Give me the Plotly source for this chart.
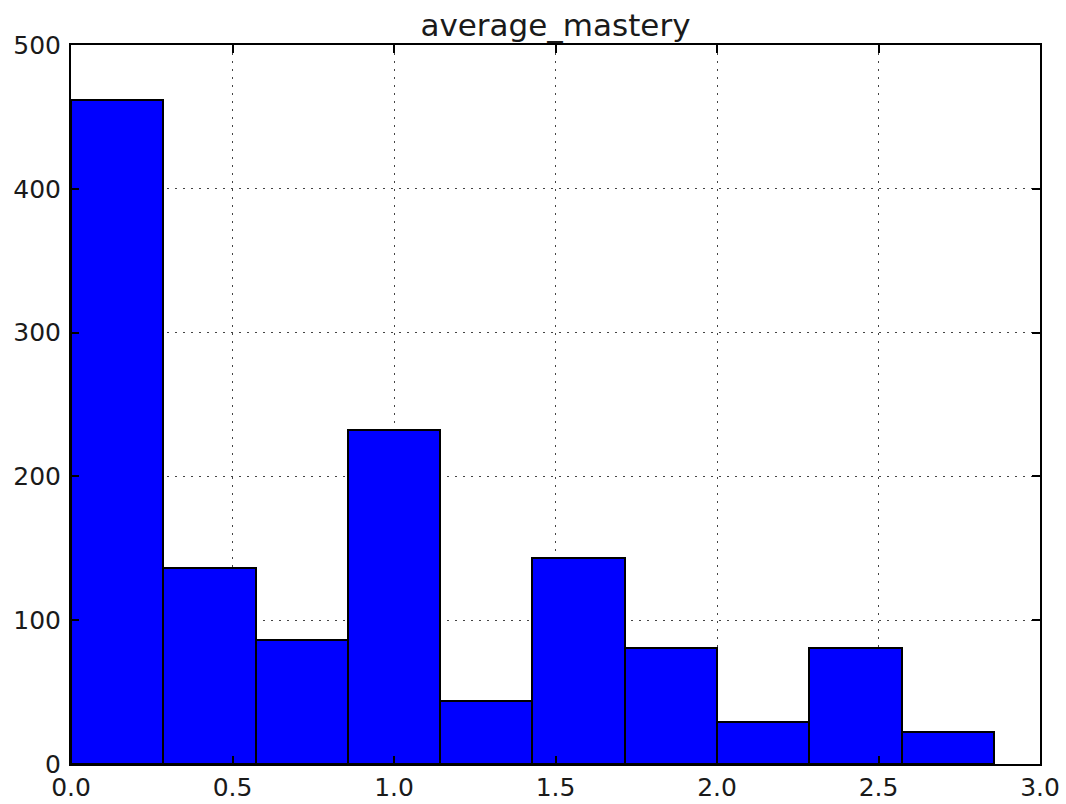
import plotly.graph_objects as go

# Histogram of average_mastery: bin edges and counts per bin
bin_edges = [0.0, 0.2857, 0.5714, 0.8571, 1.1429, 1.4286, 1.7143, 2.0, 2.2857, 2.5714, 2.8571]
counts = [462, 136, 86, 232, 44, 143, 81, 29, 81, 22]

x_ticks = [0.0, 0.5, 1.0, 1.5, 2.0, 2.5, 3.0]
y_ticks = [0, 100, 200, 300, 400, 500]

centers = [(a + b) / 2 for a, b in zip(bin_edges[:-1], bin_edges[1:])]
widths = [b - a for a, b in zip(bin_edges[:-1], bin_edges[1:])]

fig = go.Figure(
    go.Bar(
        x=centers,
        y=counts,
        width=widths,
        marker=dict(color="#0000ff", line=dict(color="black", width=2)),
        hoverinfo="x+y",
    )
)

font = "DejaVu Sans, Liberation Sans, sans-serif"
axis_common = dict(
    showline=True,
    linecolor="black",
    linewidth=2,
    mirror="allticks",
    ticks="inside",
    ticklen=8,
    tickwidth=1.5,
    tickcolor="black",
    showgrid=True,
    gridcolor="#444444",
    gridwidth=1,
    griddash="2px,6px",
    zeroline=False,
    automargin=False,
    tickfont=dict(family=font, size=25, color="#1a1a1a"),
)

fig.update_layout(
    width=1066,
    height=804,
    margin=dict(l=71, r=26, t=45, b=40),
    paper_bgcolor="white",
    plot_bgcolor="white",
    showlegend=False,
    bargap=0,
    title=dict(
        text="average_mastery",
        x=0.5,
        xref="paper",
        y=1,
        yref="paper",
        yanchor="bottom",
        pad=dict(b=9),
        font=dict(family=font, size=31, color="#1a1a1a"),
    ),
    xaxis=dict(
        range=[0, 3],
        tickvals=x_ticks,
        ticktext=[f"{v:.1f}" for v in x_ticks],
        ticklabelstandoff=0,
        **axis_common,
    ),
    yaxis=dict(
        range=[0, 500],
        tickvals=y_ticks,
        ticktext=[str(v) for v in y_ticks],
        ticklabelstandoff=3,
        **axis_common,
    ),
)

fig.write_html("out.html")
